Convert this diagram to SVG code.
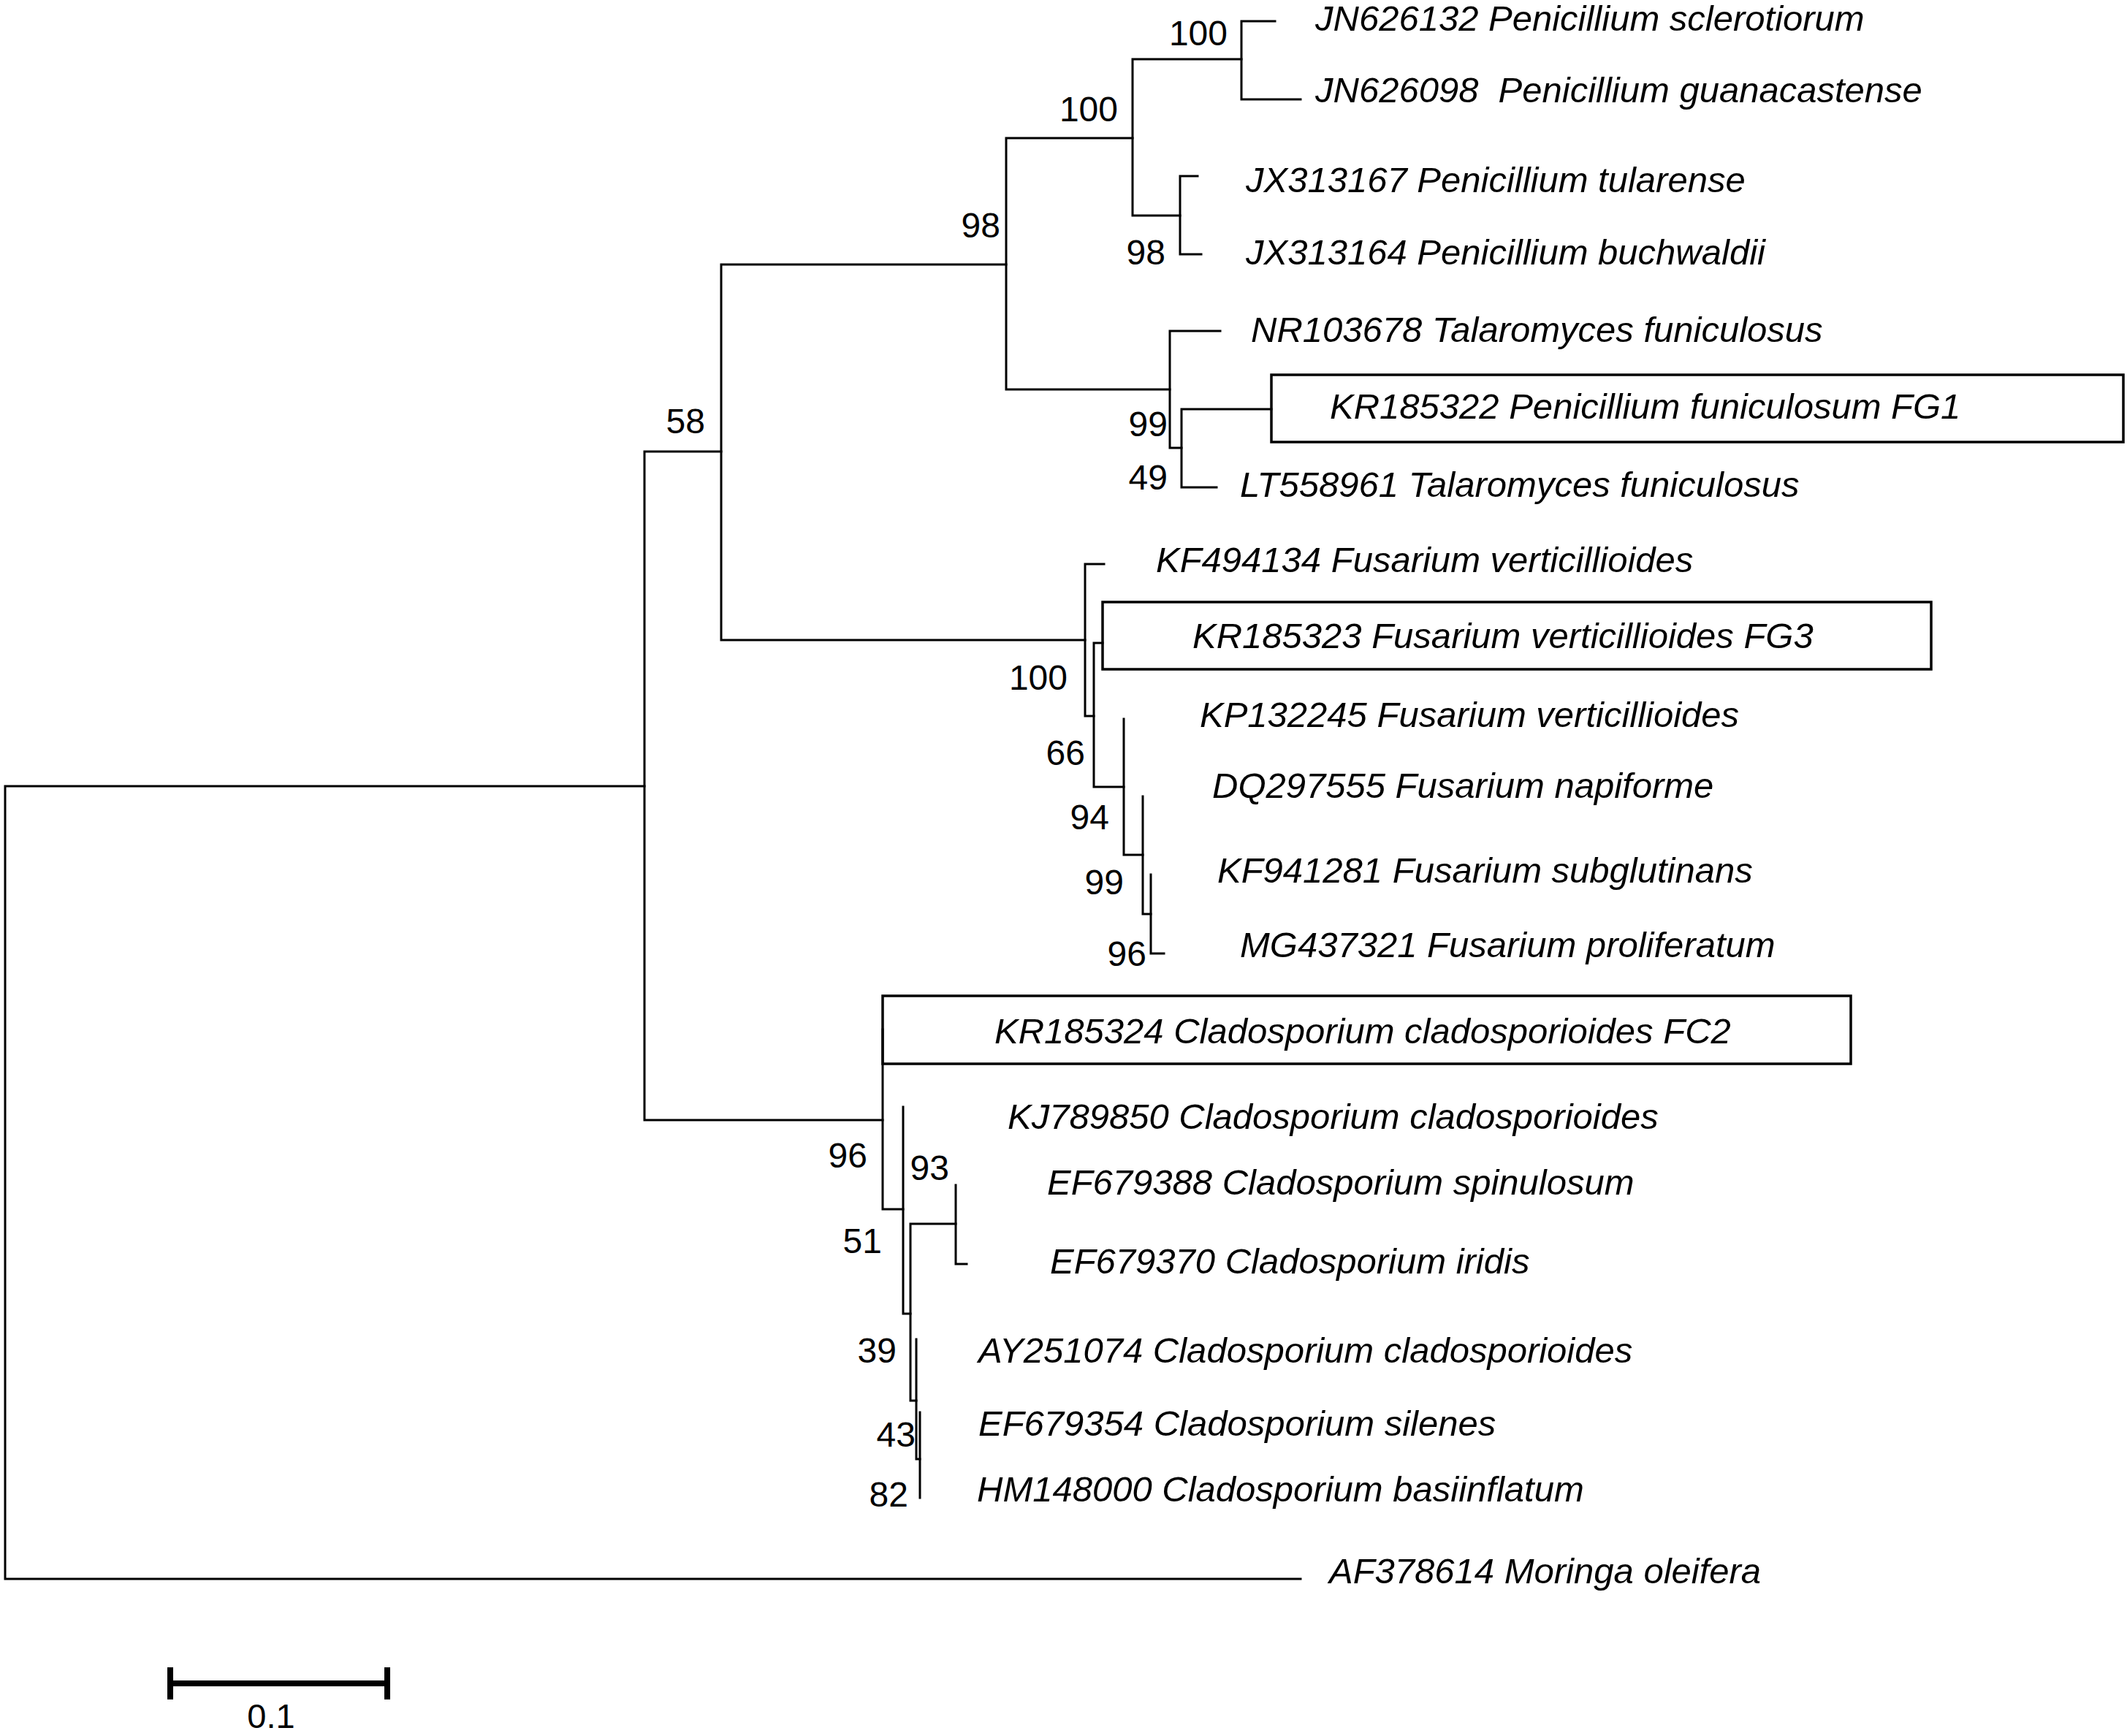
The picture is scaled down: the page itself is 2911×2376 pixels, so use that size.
<svg xmlns="http://www.w3.org/2000/svg" width="2911" height="2376" viewBox="0 0 2911 2376">
<style>
.br{fill:none;stroke:#000;stroke-width:3;stroke-linejoin:miter;stroke-linecap:square}
.box{fill:none;stroke:#000;stroke-width:3.5}
.lf{font-family:"Liberation Sans",Arial,sans-serif;font-size:49px;font-style:italic;fill:#000}
.bs{font-family:"Liberation Sans",Arial,sans-serif;font-size:48px;fill:#000;text-anchor:end}
.sc{font-family:"Liberation Sans",Arial,sans-serif;font-size:47px;fill:#000;text-anchor:middle}
</style>
<rect width="2911" height="2376" fill="#fff"/>
<g id="connectors">
<path class="br" d="M882 1076 H7 V2161 H1780"/>
<path class="br" d="M987 618 H882 V1533 H1208"/>
<path class="br" d="M1377 362 H987 V876 H1485"/>
<path class="br" d="M1550 189 H1377 V533 H1601"/>
<path class="br" d="M1699 81 H1550 V295 H1615"/>
<path class="br" d="M1745 29 H1699 V136 H1780"/>
<path class="br" d="M1639 241 H1615 V348 H1644"/>
<path class="br" d="M1670 453 H1601 V613 H1617"/>
<path class="br" d="M1740 560 H1617 V667 H1665"/>
<path class="br" d="M1511 772 H1485 V980 H1497"/>
<path class="br" d="M1509 880 H1497 V1077 H1538"/>
<path class="br" d="M1538 984 V1170 H1564"/>
<path class="br" d="M1564 1090 V1251 H1575"/>
<path class="br" d="M1575 1197 V1305 H1593"/>
<path class="br" d="M1208 1409 V1655 H1236"/>
<path class="br" d="M1236 1515 V1798 H1246"/>
<path class="br" d="M1308 1675 H1246 V1917 H1254"/>
<path class="br" d="M1308 1622 V1730 H1323"/>
<path class="br" d="M1254 1833 V1997 H1259"/>
<path class="br" d="M1259 1933 V2050"/>
</g>
<g id="bootstrap">
<text class="bs" x="965" y="593">58</text>
<text class="bs" x="1369" y="325">98</text>
<text class="bs" x="1530" y="166">100</text>
<text class="bs" x="1680" y="62">100</text>
<text class="bs" x="1595" y="362">98</text>
<text class="bs" x="1598" y="597">99</text>
<text class="bs" x="1598" y="670">49</text>
<text class="bs" x="1461" y="944">100</text>
<text class="bs" x="1485" y="1047">66</text>
<text class="bs" x="1518" y="1135">94</text>
<text class="bs" x="1538" y="1224">99</text>
<text class="bs" x="1569" y="1322">96</text>
<text class="bs" x="1187" y="1598">96</text>
<text class="bs" x="1299" y="1615">93</text>
<text class="bs" x="1207" y="1715">51</text>
<text class="bs" x="1227" y="1865">39</text>
<text class="bs" x="1253" y="1980">43</text>
<text class="bs" x="1243" y="2062">82</text>
</g>
<g id="leaf-JN626132"><text class="lf" x="1800" y="42">JN626132 Penicillium sclerotiorum</text></g>
<g id="leaf-JN626098"><text class="lf" x="1800" y="140" xml:space="preserve">JN626098  Penicillium guanacastense</text></g>
<g id="leaf-JX313167"><text class="lf" x="1705" y="263">JX313167 Penicillium tularense</text></g>
<g id="leaf-JX313164"><text class="lf" x="1705" y="362">JX313164 Penicillium buchwaldii</text></g>
<g id="leaf-NR103678"><text class="lf" x="1712" y="468">NR103678 Talaromyces funiculosus</text></g>
<g id="leaf-KR185322"><rect class="box" x="1740" y="513" width="1166" height="92"/><text class="lf" x="1820" y="573">KR185322 Penicillium funiculosum FG1</text></g>
<g id="leaf-LT558961"><text class="lf" x="1697" y="680">LT558961 Talaromyces funiculosus</text></g>
<g id="leaf-KF494134"><text class="lf" x="1582" y="783">KF494134 Fusarium verticillioides</text></g>
<g id="leaf-KR185323"><rect class="box" x="1509" y="824" width="1134" height="92"/><text class="lf" x="1632" y="887">KR185323 Fusarium verticillioides FG3</text></g>
<g id="leaf-KP132245"><text class="lf" x="1642" y="995">KP132245 Fusarium verticillioides</text></g>
<g id="leaf-DQ297555"><text class="lf" x="1659" y="1092">DQ297555 Fusarium napiforme</text></g>
<g id="leaf-KF941281"><text class="lf" x="1666" y="1208">KF941281 Fusarium subglutinans</text></g>
<g id="leaf-MG437321"><text class="lf" x="1697" y="1310">MG437321 Fusarium proliferatum</text></g>
<g id="leaf-KR185324"><rect class="box" x="1208" y="1363" width="1325" height="93"/><text class="lf" x="1361" y="1428">KR185324 Cladosporium cladosporioides FC2</text></g>
<g id="leaf-KJ789850"><text class="lf" x="1379" y="1545">KJ789850 Cladosporium cladosporioides</text></g>
<g id="leaf-EF679388"><text class="lf" x="1433" y="1635">EF679388 Cladosporium spinulosum</text></g>
<g id="leaf-EF679370"><text class="lf" x="1437" y="1743">EF679370 Cladosporium iridis</text></g>
<g id="leaf-AY251074"><text class="lf" x="1339" y="1865">AY251074 Cladosporium cladosporioides</text></g>
<g id="leaf-EF679354"><text class="lf" x="1339" y="1965">EF679354 Cladosporium silenes</text></g>
<g id="leaf-HM148000"><text class="lf" x="1337" y="2055">HM148000 Cladosporium basiinflatum</text></g>
<g id="leaf-AF378614"><text class="lf" x="1819" y="2167">AF378614 Moringa oleifera</text></g>
<g id="scale-bar">
<path d="M229 2304 H534 M233 2282 V2326 M530 2282 V2326" fill="none" stroke="#000" stroke-width="8"/>
<text class="sc" x="371" y="2365">0.1</text>
</g>
</svg>
